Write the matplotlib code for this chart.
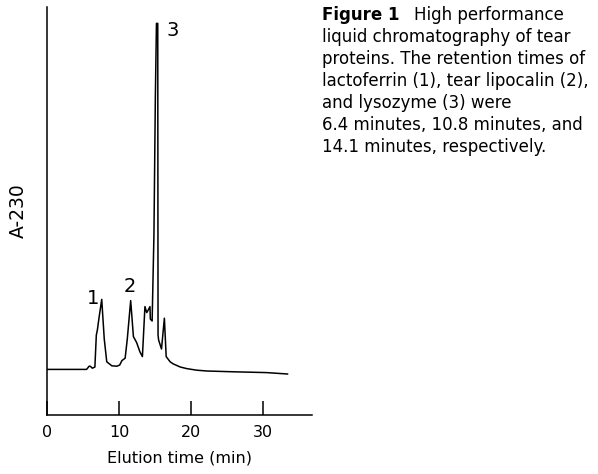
import matplotlib.pyplot as plt

plt.rcParams['font.family'] = ['DejaVu Sans']

# chromatogram trace (elution time in min, A-230 arbitrary units)
elution_time = [0, 5.5, 5.85, 6.0, 6.3, 6.65, 6.85, 7.0, 7.2, 7.6, 7.95, 8.3, 9.0, 9.7,
                10.1, 10.4, 10.85, 11.15, 11.62, 12.0, 12.45, 12.9, 13.25, 13.6, 13.85,
                14.05, 14.3, 14.35, 14.6, 14.85, 15.05, 15.2, 15.38, 15.42, 15.5, 15.9,
                16.3, 16.55, 17.1, 17.5, 18.5, 19.4, 20.8, 22.2, 25.9, 30.5, 33.4]
a230 = [0.114, 0.114, 0.122, 0.122, 0.117, 0.12, 0.2, 0.213, 0.24, 0.289, 0.19, 0.133,
        0.123, 0.122, 0.125, 0.136, 0.142, 0.19, 0.286, 0.196, 0.181, 0.158, 0.146,
        0.271, 0.256, 0.262, 0.271, 0.24, 0.235, 0.45, 0.8, 0.979, 0.979, 0.2, 0.1875,
        0.165, 0.242, 0.146, 0.133, 0.128, 0.12, 0.116, 0.112, 0.11, 0.108, 0.106, 0.1025]

peak_labels = ['1', '2', '3']
peak_x = [6.4, 11.5, 17.5]
peak_y = [0.29, 0.32, 0.96]

caption = ['liquid chromatography of tear',
           'proteins. The retention times of',
           'lactoferrin (1), tear lipocalin (2),',
           'and lysozyme (3) were',
           '6.4 minutes, 10.8 minutes, and',
           '14.1 minutes, respectively.']

fig = plt.figure(figsize=(5.98, 4.74), dpi=100)
ax = fig.add_axes([47 / 598, 59 / 474, 265 / 598, 408 / 474])

ax.plot(elution_time, a230, color='black', lw=1.1)
for lab, x, y in zip(peak_labels, peak_x, peak_y):
    ax.text(x, y, lab, fontsize=14, ha='center', va='center')

ax.set_xlim(0, 36.8)
ax.set_ylim(0, 1.02)
ax.set_xticks([0, 10, 20, 30])
ax.set_yticks([])
ax.tick_params(axis='x', direction='in', length=10, width=1.1, labelsize=11.5, pad=7)
for s in ['top', 'right']:
    ax.spines[s].set_visible(False)
for s in ['left', 'bottom']:
    ax.spines[s].set_linewidth(1.1)
ax.set_xlabel('Elution time (min)', fontsize=11.5, labelpad=8)
ax.set_ylabel('A-230', fontsize=13.5, labelpad=14)

# caption on the right
fig.text(322 / 598, 1 - 15 / 474, 'Figure 1', fontsize=12, fontweight='bold', va='center')
fig.text(414 / 598, 1 - 15 / 474, 'High performance', fontsize=12, va='center')
for i, line in enumerate(caption):
    fig.text(322 / 598, 1 - (37 + 22 * i) / 474, line, fontsize=12, va='center')

fig.savefig('out.png', dpi=100)
